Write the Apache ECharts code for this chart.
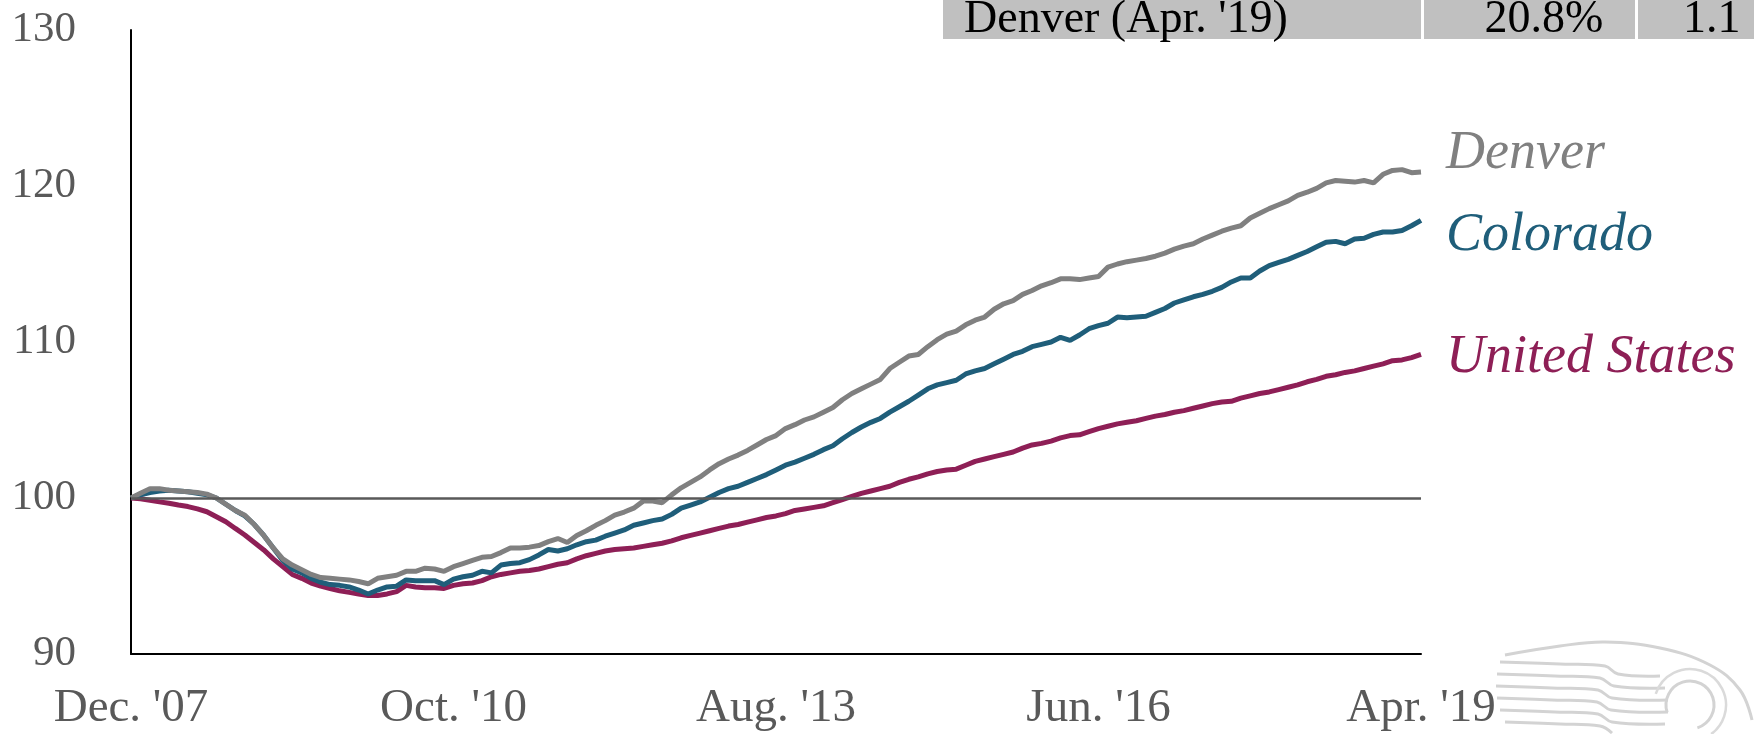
<!DOCTYPE html>
<html lang="en">

<head>
  <meta charset="UTF-8" />
  <title>House price index</title>
  <script src="https://cdn.jsdelivr.net/npm/echarts/dist/echarts.min.js"></script>
  <style>
    body,
    html {
      margin: 0;
      padding: 0;
      width: 100%;
      height: 100%;
      overflow: hidden;
      background: #fff;
    }

    #chart {
      width: 1754px;
      height: 734px;
    }
  </style>
</head>

<body>
  <div id="chart"></div>
</body>
<script>
  // monthly index, Dec. 2007 = 100, through Apr. 2019
  var denver = [
    100.0, 100.3, 100.6, 100.6, 100.5, 100.45, 100.4, 100.35, 100.25, 100.0,
    99.6, 99.2, 98.9, 98.3, 97.6, 96.8, 96.1, 95.7, 95.4, 95.1,
    94.9, 94.85, 94.8, 94.75, 94.65, 94.5, 94.85, 94.95, 95.05, 95.3,
    95.3, 95.5, 95.45, 95.3, 95.6, 95.8, 96.0, 96.2, 96.25, 96.5,
    96.8, 96.8, 96.85, 96.95, 97.2, 97.4, 97.15, 97.6, 97.9, 98.25,
    98.55, 98.9, 99.1, 99.35, 99.8, 99.8, 99.7, 100.2, 100.65, 101.0,
    101.35, 101.8, 102.2, 102.5, 102.75, 103.05, 103.4, 103.75, 104.0, 104.45,
    104.7, 105.0, 105.2, 105.5, 105.8, 106.3, 106.7, 107.0, 107.3, 107.6,
    108.3, 108.7, 109.1, 109.2, 109.7, 110.15, 110.5, 110.7, 111.1, 111.4,
    111.6, 112.1, 112.45, 112.65, 113.05, 113.3, 113.6, 113.8, 114.05, 114.05,
    114.0, 114.1, 114.2, 114.8, 115.0, 115.15, 115.25, 115.35, 115.5, 115.7,
    115.95, 116.15, 116.3, 116.6, 116.85, 117.1, 117.3, 117.45, 117.95, 118.25,
    118.55, 118.8, 119.05, 119.4, 119.6, 119.85, 120.2, 120.35, 120.3, 120.25,
    120.35, 120.2, 120.75, 121.0, 121.05, 120.85, 120.9
  ];
  var colorado = [
    100.0, 100.2, 100.35, 100.45, 100.5, 100.45, 100.4, 100.3, 100.2, 100.0,
    99.6, 99.2, 98.85, 98.3, 97.6, 96.8, 96.0, 95.45, 95.2, 94.85,
    94.6, 94.45, 94.4, 94.3, 94.1, 93.85, 94.1, 94.3, 94.35, 94.75,
    94.7, 94.7, 94.7, 94.45, 94.8, 94.95, 95.05, 95.3, 95.2, 95.7,
    95.8, 95.85, 96.05, 96.35, 96.7, 96.6, 96.75, 97.0, 97.2, 97.3,
    97.55, 97.75, 97.95, 98.25, 98.4, 98.55, 98.65, 98.95, 99.35, 99.55,
    99.75, 100.05, 100.35, 100.6, 100.75, 101.0, 101.25, 101.5, 101.8, 102.1,
    102.3, 102.55, 102.8, 103.1, 103.35, 103.8, 104.2, 104.55, 104.85, 105.1,
    105.5, 105.85, 106.2, 106.6, 107.0, 107.25, 107.4, 107.55, 107.95, 108.15,
    108.3, 108.6, 108.9, 109.2, 109.4, 109.7, 109.85, 110.0, 110.3, 110.1,
    110.45, 110.85, 111.05, 111.2, 111.6, 111.55, 111.6, 111.65, 111.9, 112.15,
    112.5, 112.7, 112.9, 113.05, 113.25, 113.5, 113.85, 114.1, 114.1, 114.55,
    114.9, 115.1, 115.3, 115.55, 115.8, 116.1, 116.4, 116.45, 116.3, 116.6,
    116.65, 116.9, 117.05, 117.05, 117.15, 117.45, 117.8
  ];
  var unitedStates = [
    100.0, 99.95, 99.85, 99.75, 99.66, 99.55, 99.45, 99.3, 99.12, 98.8,
    98.48, 98.05, 97.63, 97.15, 96.67, 96.1, 95.6, 95.1, 94.85, 94.55,
    94.35, 94.2, 94.05, 93.95, 93.85, 93.75, 93.75, 93.85, 94.0, 94.4,
    94.3, 94.25, 94.25, 94.2, 94.4, 94.5, 94.55, 94.7, 94.95, 95.1,
    95.2, 95.3, 95.35, 95.45, 95.6, 95.75, 95.85, 96.1, 96.3, 96.45,
    96.6, 96.7, 96.75, 96.8, 96.9, 97.0, 97.1, 97.25, 97.45, 97.6,
    97.75, 97.9, 98.05, 98.2, 98.3, 98.45, 98.6, 98.75, 98.85, 99.0,
    99.2, 99.3, 99.4, 99.5, 99.7, 99.9, 100.1, 100.3, 100.45, 100.6,
    100.75, 101.0, 101.2, 101.35, 101.55, 101.7, 101.8, 101.85, 102.1, 102.35,
    102.5, 102.65, 102.8, 102.95, 103.2, 103.4, 103.5, 103.65, 103.85, 104.0,
    104.05, 104.25, 104.45, 104.6, 104.75, 104.85, 104.95, 105.1, 105.25, 105.35,
    105.5, 105.6, 105.75, 105.9, 106.05, 106.15, 106.2, 106.4, 106.55, 106.7,
    106.8, 106.95, 107.1, 107.25, 107.45, 107.6, 107.8, 107.9, 108.05, 108.15,
    108.3, 108.45, 108.6, 108.8, 108.85, 109.0, 109.2
  ];
  var xTicks = ["Dec. '07", "Oct. '10", "Aug. '13", "Jun. '16", "Apr. '19"];
  var tableRow = ["Denver (Apr. '19)", "20.8%", "1.1"];

  var monthNames = ['Jan.', 'Feb.', 'Mar.', 'Apr.', 'May', 'Jun.', 'Jul.', 'Aug.', 'Sep.', 'Oct.', 'Nov.', 'Dec.'];
  var months = denver.map(function (v, i) {
    var k = 11 + i;
    var yr = 2007 + Math.floor(k / 12);
    return monthNames[k % 12] + " '" + String(yr % 100).padStart(2, '0');
  });

  var serif = "'Liberation Serif', 'DejaVu Serif', serif";
  var gray = '#808080', blue = '#1f5e7a', plum = '#8e1f56';

  function lineSeries(name, data, color, dy) {
    return {
      name: name,
      type: 'line',
      data: data,
      symbol: 'none',
      lineStyle: { color: color, width: 5 },
      endLabel: {
        show: true,
        formatter: name,
        distance: 25,
        offset: [0, dy],
        color: color,
        fontFamily: serif,
        fontStyle: 'italic',
        fontSize: 54
      }
    };
  }

  // faint emblem in the corner
  var emblem = [];
  var waves = [
    [[1500, 662], [1560, 664], [1605, 666], [1618, 674], [1660, 676]],
    [[1497, 674], [1555, 676], [1600, 678], [1614, 686], [1665, 688]],
    [[1496, 686], [1552, 688], [1598, 690], [1612, 698], [1668, 700]],
    [[1497, 698], [1552, 700], [1597, 702], [1611, 710], [1668, 712]],
    [[1500, 710], [1555, 712], [1598, 714], [1612, 722], [1665, 724]],
    [[1505, 722], [1560, 724], [1600, 726], [1612, 733]]
  ];
  waves.forEach(function (pts) {
    emblem.push({
      type: 'polyline',
      shape: { points: pts, smooth: 0.4 },
      style: { stroke: '#d3d3d3', lineWidth: 3, fill: null }
    });
  });
  emblem.push({
    type: 'polyline',
    shape: { points: [[1505, 655], [1560, 646], [1605, 642], [1660, 648], [1710, 665], [1740, 690], [1752, 720]], smooth: 0.4 },
    style: { stroke: '#d3d3d3', lineWidth: 3, fill: null }
  });
  emblem.push({
    type: 'arc',
    shape: { cx: 1690, cy: 705, r: 24, startAngle: Math.PI * 0.9, endAngle: Math.PI * 2.4 },
    style: { stroke: '#d3d3d3', lineWidth: 3, fill: null }
  });
  emblem.push({
    type: 'arc',
    shape: { cx: 1690, cy: 705, r: 36, startAngle: Math.PI * 1.1, endAngle: Math.PI * 2.3 },
    style: { stroke: '#dadada', lineWidth: 2.5, fill: null }
  });

  var chart = echarts.init(document.getElementById('chart'));
  var option = {
    backgroundColor: '#ffffff',
    animation: false,
    grid: { left: 131, right: 333, top: 30, bottom: 80 },
    xAxis: {
      type: 'category',
      data: months,
      boundaryGap: false,
      axisLine: { lineStyle: { color: '#000', width: 2 } },
      axisTick: { show: false },
      axisLabel: {
        interval: function (i, v) { return xTicks.indexOf(v) >= 0; },
        margin: 31,
        color: '#595959',
        fontFamily: serif,
        fontSize: 47
      },
      splitLine: { show: false }
    },
    yAxis: {
      type: 'value',
      min: 90,
      max: 130,
      interval: 10,
      axisLine: { show: true, lineStyle: { color: '#000', width: 2 } },
      axisTick: { show: false },
      splitLine: { show: false },
      axisLabel: {
        margin: 55,
        color: '#595959',
        fontFamily: serif,
        fontSize: 43
      }
    },
    series: [
      Object.assign(lineSeries('United States', unitedStates, plum, 3), {
        markLine: {
          silent: true,
          symbol: 'none',
          label: { show: false },
          lineStyle: { color: '#595959', width: 2.5, type: 'solid' },
          data: [{ yAxis: 100 }]
        }
      }),
      lineSeries('Colorado', colorado, blue, 15),
      lineSeries('Denver', denver, gray, -18)
    ],
    graphic: [
      { type: 'rect', shape: { x: 943, y: 0, width: 811, height: 39 }, style: { fill: '#c0c0c0' } },
      { type: 'rect', shape: { x: 1421, y: 0, width: 3, height: 39 }, style: { fill: '#ffffff' } },
      { type: 'rect', shape: { x: 1635, y: 0, width: 3, height: 39 }, style: { fill: '#ffffff' } },
      { type: 'text', x: 964, y: 20, style: { text: tableRow[0], font: '46px ' + serif, fill: '#000', verticalAlign: 'middle' } },
      { type: 'text', x: 1544, y: 20, style: { text: tableRow[1], font: '46px ' + serif, fill: '#000', align: 'center', verticalAlign: 'middle' } },
      { type: 'text', x: 1683, y: 20, style: { text: tableRow[2], font: '46px ' + serif, fill: '#000', verticalAlign: 'middle' } }
    ].concat(emblem)
  };
  chart.setOption(option);
</script>

</html>
